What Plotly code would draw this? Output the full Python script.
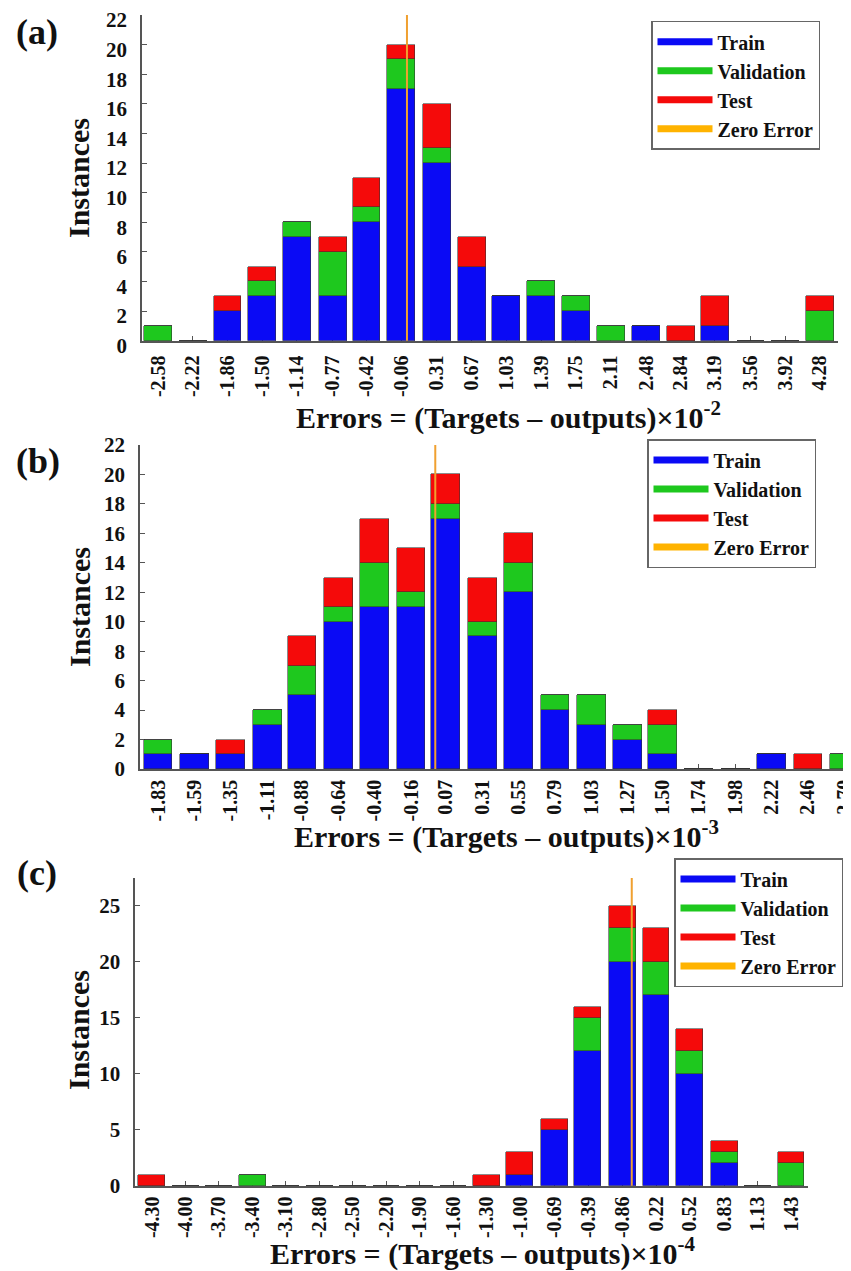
import plotly.graph_objects as go

# ---------------- data ----------------
# Panel (a): errors x 1e-2
a_centers = [-2.58, -2.22, -1.86, -1.50, -1.14, -0.77, -0.42, -0.06, 0.31, 0.67,
             1.03, 1.39, 1.75, 2.11, 2.48, 2.84, 3.19, 3.56, 3.92, 4.28]
a_labels = ["-2.58", "-2.22", "-1.86", "-1.50", "-1.14", "-0.77", "-0.42", "-0.06", "0.31", "0.67",
            "1.03", "1.39", "1.75", "2.11", "2.48", "2.84", "3.19", "3.56", "3.92", "4.28"]
a_train = [0, 0, 2, 3, 7, 3, 8, 17, 12, 5, 3, 3, 2, 0, 1, 0, 1, 0, 0, 0]
a_val   = [1, 0, 0, 1, 1, 3, 1, 2, 1, 0, 0, 1, 1, 1, 0, 0, 0, 0, 0, 2]
a_test  = [0, 0, 1, 1, 0, 1, 2, 1, 3, 2, 0, 0, 0, 0, 0, 1, 2, 0, 0, 1]

# Panel (b): errors x 1e-3
b_centers = [-1.83, -1.59, -1.35, -1.11, -0.88, -0.64, -0.40, -0.16, 0.07, 0.31,
             0.55, 0.79, 1.03, 1.27, 1.50, 1.74, 1.98, 2.22, 2.46, 2.70]
b_labels = ["-1.83", "-1.59", "-1.35", "-1.11", "-0.88", "-0.64", "-0.40", "-0.16", "0.07", "0.31",
            "0.55", "0.79", "1.03", "1.27", "1.50", "1.74", "1.98", "2.22", "2.46", "2.70"]
b_train = [1, 1, 1, 3, 5, 10, 11, 11, 17, 9, 12, 4, 3, 2, 1, 0, 0, 1, 0, 0]
b_val   = [1, 0, 0, 1, 2, 1, 3, 1, 1, 1, 2, 1, 2, 1, 2, 0, 0, 0, 0, 1]
b_test  = [0, 0, 1, 0, 2, 2, 3, 3, 2, 3, 2, 0, 0, 0, 1, 0, 0, 0, 1, 0]

# Panel (c): errors x 1e-4
c_centers = [-4.30, -4.00, -3.70, -3.40, -3.10, -2.80, -2.50, -2.20, -1.90, -1.60,
             -1.30, -1.00, -0.69, -0.39, -0.08, 0.22, 0.52, 0.83, 1.13, 1.43]
c_labels = ["-4.30", "-4.00", "-3.70", "-3.40", "-3.10", "-2.80", "-2.50", "-2.20", "-1.90", "-1.60",
            "-1.30", "-1.00", "-0.69", "-0.39", "-0.86", "0.22", "0.52", "0.83", "1.13", "1.43"]
c_train = [0, 0, 0, 0, 0, 0, 0, 0, 0, 0, 0, 1, 5, 12, 20, 17, 10, 2, 0, 0]
c_val   = [0, 0, 0, 1, 0, 0, 0, 0, 0, 0, 0, 0, 0, 3, 3, 3, 2, 1, 0, 2]
c_test  = [1, 0, 0, 0, 0, 0, 0, 0, 0, 0, 1, 2, 1, 1, 2, 3, 2, 1, 0, 1]

series_names = ["Train", "Validation", "Test", "Zero Error"]
ZERO_ERROR = 0.0

# ---------------- style ----------------
OFF = 8                      # default page body margin
W, H = 851 - OFF, 1271 - OFF
FONT = "Liberation Serif"
COL = {"Train": "#0a0af5", "Validation": "#1ec81e", "Test": "#f50a0a", "Zero Error": "#ffb300"}
AXC = "#555555"


def fx(px):
    return (px - OFF) / W


def fy(py):
    return 1 - (py - OFF) / H


panels = [
    dict(key="", centers=a_centers, labels=a_labels, tr=a_train, va=a_val, te=a_test,
         xdom=[fx(142), fx(838)], ydom=[fy(340.7), fy(15)], xr=[-2.746, 4.467], yr=[0, 22], dtick=2,
         xstand=5, yshift=5, legend="legend", leg=(fx(651), fy(20.7)), tag="(a)", tagpos=(37, 32),
         xtitle="Errors = (Targets – outputs)×10<sup>-2</sup>", xtpos=(508, 415), ytpos=(79, 178)),
    dict(key="2", centers=b_centers, labels=b_labels, tr=b_train, va=b_val, te=b_test,
         xdom=[fx(140), 1.0], ydom=[fy(769), fy(445)], xr=[-1.949, 2.744], yr=[0, 22], dtick=2,
         xstand=1, yshift=0, legend="legend2", leg=(fx(647), fy(439)), tag="(b)", tagpos=(38, 461),
         xtitle="Errors = (Targets – outputs)×10<sup>-3</sup>", xtpos=(506, 834), ytpos=(79, 607)),
    dict(key="3", centers=c_centers, labels=c_labels, tr=c_train, va=c_val, te=c_test,
         xdom=[fx(135.3), fx(807.7)], ydom=[fy(1185.7), fy(878)], xr=[-4.45, 1.577], yr=[0, 27.5], dtick=5,
         xstand=1, yshift=0, legend="legend3", leg=(fx(674), fy(858)), tag="(c)", tagpos=(37, 873),
         xtitle="Errors = (Targets – outputs)×10<sup>-4</sup>", xtpos=(483, 1251), ytpos=(78, 1030)),
]

fig = go.Figure()
annotations = []
shapes = []
layout = {}

for p in panels:
    xa, ya = "x" + p["key"], "y" + p["key"]
    n = len(p["centers"])
    step = (p["centers"][-1] - p["centers"][0]) / (n - 1)
    bw = step * 0.8
    for name, vals in zip(series_names[:3], [p["tr"], p["va"], p["te"]]):
        fig.add_trace(go.Bar(
            x=p["centers"], y=vals, width=bw, name=name,
            marker=dict(color=COL[name], line=dict(color="rgba(50,50,50,0.7)", width=0.8)),
            xaxis=xa, yaxis=ya, showlegend=False,
        ))
    # legend-only line swatches
    for name in series_names:
        fig.add_trace(go.Scatter(
            x=[None], y=[None], mode="lines", name=name,
            line=dict(color=COL[name], width=7),
            xaxis=xa, yaxis=ya, legend=p["legend"], showlegend=True,
        ))
    # zero error line
    shapes.append(dict(type="line", xref=xa, yref=ya + " domain", x0=ZERO_ERROR, x1=ZERO_ERROR,
                       y0=0, y1=1, line=dict(color="#f0a030", width=2), layer="above"))

    yticks = list(range(0, int(p["yr"][1]) + 1, p["dtick"]))
    layout["xaxis" + p["key"]] = dict(
        domain=p["xdom"], range=p["xr"], anchor=ya, automargin=False,
        tickmode="array", tickvals=p["centers"], ticktext=p["labels"], tickangle=-90,
        ticks="inside", ticklen=5, tickcolor=AXC, showline=True, linecolor=AXC, linewidth=1.5,
        showgrid=False, zeroline=False, layer="below traces",
        tickfont=dict(family=FONT, size=20, color="#111", weight="bold"),
        ticklabelstandoff=p["xstand"], ticklabeloverflow="allow",
    )
    layout["yaxis" + p["key"]] = dict(
        domain=p["ydom"], range=p["yr"], anchor=xa, automargin=False,
        tickmode="array", tickvals=yticks, ticktext=[str(v) for v in yticks],
        ticks="inside", ticklen=5, tickcolor=AXC, showline=True, linecolor=AXC, linewidth=1.5,
        showgrid=False, zeroline=False, layer="below traces",
        tickfont=dict(family=FONT, size=21, color="#111", weight="bold"),
        ticklabelstandoff=9, ticklabeloverflow="allow", ticklabelshift=p["yshift"],
    )
    layout[p["legend"]] = dict(
        x=p["leg"][0], y=p["leg"][1], xanchor="left", yanchor="top", traceorder="normal",
        bgcolor="white", bordercolor="#666", borderwidth=1.5,
        font=dict(family=FONT, size=20, color="#111", weight="bold"),
        tracegroupgap=0, itemwidth=55,
    )
    annotations.append(dict(text=p["tag"], xref="paper", yref="paper",
                            x=fx(p["tagpos"][0]), y=fy(p["tagpos"][1]), xanchor="center", yanchor="middle",
                            showarrow=False, font=dict(family=FONT, size=36, color="#111", weight="bold")))
    annotations.append(dict(text=p["xtitle"], xref="paper", yref="paper",
                            x=fx(p["xtpos"][0]), y=fy(p["xtpos"][1]), xanchor="center", yanchor="middle",
                            showarrow=False, font=dict(family=FONT, size=30, color="#111", weight="bold")))
    annotations.append(dict(text="Instances", xref="paper", yref="paper", textangle=-90,
                            x=fx(p["ytpos"][0]), y=fy(p["ytpos"][1]), xanchor="center", yanchor="middle",
                            showarrow=False, font=dict(family=FONT, size=30, color="#111", weight="bold")))

fig.update_layout(
    width=W, height=H, margin=dict(l=0, r=0, t=0, b=0, autoexpand=False),
    paper_bgcolor="white", plot_bgcolor="white",
    barmode="stack", bargap=0,
    font=dict(family=FONT, color="#111"),
    annotations=annotations, shapes=shapes,
    **layout,
)

fig.write_html("out.html")
